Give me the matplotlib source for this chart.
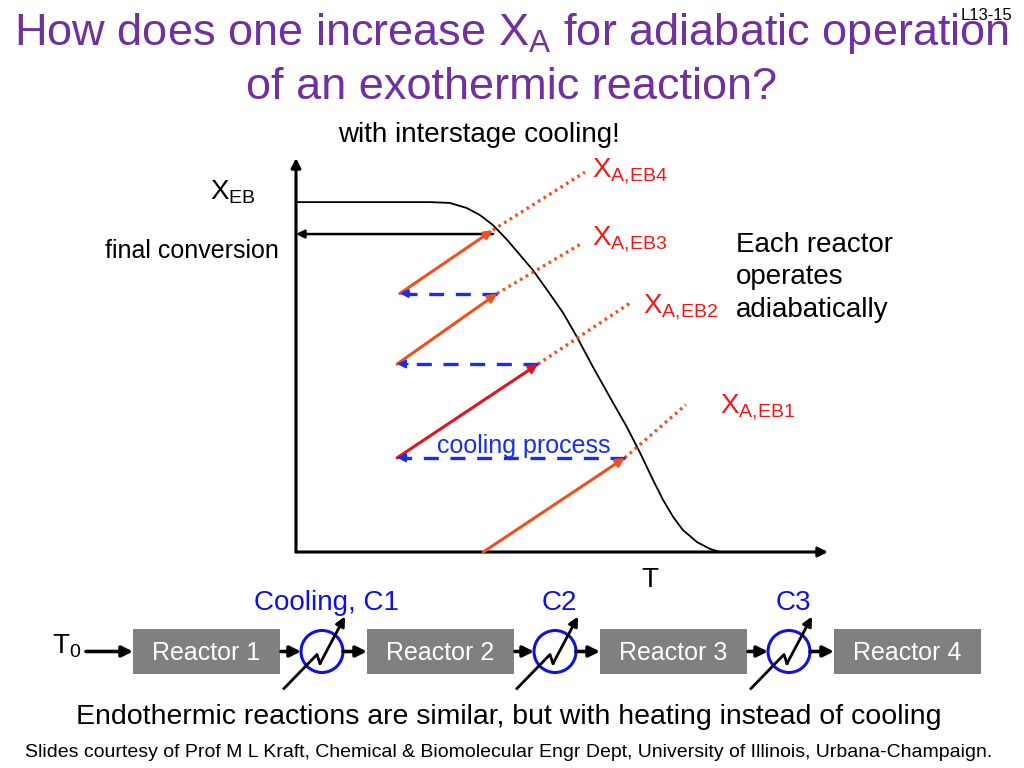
import numpy as np
import matplotlib
matplotlib.use('Agg')
import matplotlib.pyplot as plt
from matplotlib.patches import Rectangle, Circle

plt.rcParams['font.family'] = ['Liberation Sans', 'DejaVu Sans']
plt.rcParams['mathtext.fontset'] = 'custom'
plt.rcParams['mathtext.rm'] = 'Liberation Sans'
plt.rcParams['mathtext.it'] = 'Liberation Sans:italic'
plt.rcParams['mathtext.default'] = 'regular'

# equilibrium conversion curve X_EB(T), both axes scaled 0..1
curve_T = [0.002, 0.083, 0.177, 0.252, 0.289, 0.321, 0.346, 0.370, 0.397, 0.421,
           0.445, 0.472, 0.502, 0.528, 0.558, 0.590, 0.622, 0.647, 0.671, 0.690,
           0.709, 0.727, 0.754, 0.778, 0.797]
curve_X = [0.888, 0.888, 0.888, 0.888, 0.886, 0.873, 0.855, 0.830, 0.792, 0.754,
           0.716, 0.665, 0.607, 0.546, 0.470, 0.393, 0.317, 0.251, 0.183, 0.132,
           0.089, 0.056, 0.025, 0.008, 0.0]

# adiabatic operating line of each reactor: inlet -> outlet
stage_T_in = [0.352, 0.190, 0.190, 0.195]
stage_X_in = [0.0, 0.239, 0.477, 0.656]
stage_T_out = [0.618, 0.455, 0.378, 0.370]
stage_X_out = [0.239, 0.477, 0.656, 0.817]

# dotted extensions up to the X_A,EB labels
eb_T = [0.733, 0.628, 0.538, 0.543]
eb_X = [0.374, 0.632, 0.784, 0.964]
eb_labels = ['A{,}EB1', 'A{,}EB2', 'A{,}EB3', 'A{,}EB4']

final_X = 0.807

reactors = ['Reactor 1', 'Reactor 2', 'Reactor 3', 'Reactor 4']
coolers = ['Cooling, C1', 'C2', 'C3']

orange = '#f0501e'
red = '#e0141e'
blue = '#1a2ee8'
lab_red = '#f01818'
purple = '#7030a0'

fig = plt.figure(figsize=(10.24, 7.68), dpi=100)

# chart axes, placed in pixels of the slide
L, R, B, T = 296, 828, 552, 158
ax = fig.add_axes([L / 1024, (768 - B) / 768, (R - L) / 1024, (B - T) / 768])
ax.set_xlim(0, 1)
ax.set_ylim(0, 1)
ax.axis('off')

# axes with arrow heads
ax.annotate('', xy=(0, 1), xytext=(0, 0), xycoords='axes fraction',
            arrowprops=dict(arrowstyle='-|>', color='black', lw=2.2,
                            mutation_scale=14, shrinkA=0, shrinkB=0))
ax.annotate('', xy=(1, 0), xytext=(0, 0), xycoords='axes fraction',
            arrowprops=dict(arrowstyle='-|>', color='black', lw=2.2,
                            mutation_scale=14, shrinkA=0, shrinkB=0))

ax.plot(curve_T, curve_X, color='black', lw=1.3, solid_joinstyle='round')

# final conversion arrow back to the axis
ax.annotate('', xy=(0, final_X), xytext=(stage_T_out[-1], final_X),
            arrowprops=dict(arrowstyle='-|>', color='black', lw=1.8,
                            mutation_scale=12, shrinkA=0, shrinkB=0))

for i in range(4):
    c = red if i == 1 else orange
    # dotted extension
    ax.plot([stage_T_out[i], eb_T[i]], [stage_X_out[i], eb_X[i]], color=orange,
            lw=2.4, linestyle=(0, (0.8, 1.2)), dash_capstyle='butt')
    ax.annotate('', xy=(stage_T_out[i], stage_X_out[i]),
                xytext=(stage_T_in[i], stage_X_in[i]),
                arrowprops=dict(arrowstyle='-|>', color=c, lw=2.2,
                                mutation_scale=12, shrinkA=0, shrinkB=0))

# interstage cooling (dashed, back to lower T)
for i in range(3):
    y = stage_X_out[i]
    ax.plot([stage_T_out[i], stage_T_in[i + 1] + 0.01], [y, y], color=blue, lw=2.4,
            linestyle=(0, (4.5, 3.5)))
    ax.annotate('', xy=(stage_T_in[i + 1], y), xytext=(stage_T_in[i + 1] + 0.02, y),
                arrowprops=dict(arrowstyle='-|>', color=blue, lw=1.5,
                                mutation_scale=12, shrinkA=0, shrinkB=0))

# overlay in slide pixels for text and the flow sheet
ov = fig.add_axes([0, 0, 1, 1])
ov.set_xlim(0, 1024)
ov.set_ylim(768, 0)
ov.axis('off')
ov.patch.set_visible(False)

ov.text(512, 45, r'How does one increase X$_\mathrm{A}$ for adiabatic operation',
        ha='center', va='baseline', fontsize=32.5, color=purple)
ov.text(511, 99, 'of an exothermic reaction?', ha='center', va='baseline',
        fontsize=32.5, color=purple)
ov.text(1012, 20, 'L13-15', ha='right', va='baseline', fontsize=12)
ov.text(338, 142, 'with interstage cooling!', ha='left', va='baseline', fontsize=20)

ov.text(210, 199, r'X$_\mathrm{EB}$', ha='left', va='baseline', fontsize=20)
ov.text(105, 258, 'final conversion', ha='left', va='baseline', fontsize=18)
ov.text(736, 232, 'Each reactor\noperates\nadiabatically', ha='left', va='top',
        fontsize=20, linespacing=1.32)
ov.text(437, 453, 'cooling process', ha='left', va='baseline', fontsize=18, color=blue)
ov.text(650, 587, 'T', ha='center', va='baseline', fontsize=20)

label_xy = [(720, 413), (643, 313), (592, 245), (592, 177)]
for (lx, ly), lab in zip(label_xy, eb_labels):
    ov.text(lx, ly, 'X$_\\mathrm{' + lab + '}$', ha='left', va='baseline',
            fontsize=20, color=lab_red)

# flow sheet
box_x = [133, 367, 600, 834]
box_w, box_top, box_h = 147, 629, 45
yc = box_top + box_h / 2
for bx, name in zip(box_x, reactors):
    ov.add_patch(Rectangle((bx, box_top), box_w, box_h, facecolor='#808080',
                           edgecolor='none'))
    ov.text(bx + box_w / 2, yc + 1, name, ha='center', va='center', fontsize=18,
            color='white')

def arrow(x0, x1, y):
    ov.annotate('', xy=(x1, y), xytext=(x0, y),
                arrowprops=dict(arrowstyle='-|>', color='black', lw=2.6,
                                mutation_scale=16, shrinkA=0, shrinkB=0))

ov.text(52, 654, r'T$_0$', ha='left', va='baseline', fontsize=20)
arrow(86, box_x[0], yc)

hx_x = [322, 555, 789]
for k, (cx, name) in enumerate(zip(hx_x, coolers)):
    ov.add_patch(Circle((cx, yc), 21, facecolor='none', edgecolor='#1010e0', lw=2.2))
    ov.plot([cx - 38, cx - 5, cx - 2], [yc + 37, yc + 3, yc + 12], color='black', lw=2)
    ov.annotate('', xy=(cx + 23, yc - 35), xytext=(cx - 2, yc + 12),
                arrowprops=dict(arrowstyle='-|>', color='black', lw=2,
                                mutation_scale=14, shrinkA=0, shrinkB=0))
    ov.text(cx + 4, 610, name, ha='center', va='baseline', fontsize=20, color='#1010e0')
    arrow(box_x[k] + box_w + 1, cx - 21, yc)
    arrow(cx + 21, box_x[k + 1], yc)

ov.text(509, 724, 'Endothermic reactions are similar, but with heating instead of cooling',
        ha='center', va='baseline', fontsize=20.5)
ov.text(509, 757, 'Slides courtesy of Prof M L Kraft, Chemical & Biomolecular Engr Dept, '
        'University of Illinois, Urbana-Champaign.', ha='center', va='baseline', fontsize=14)

fig.savefig('out.png', dpi=100)
